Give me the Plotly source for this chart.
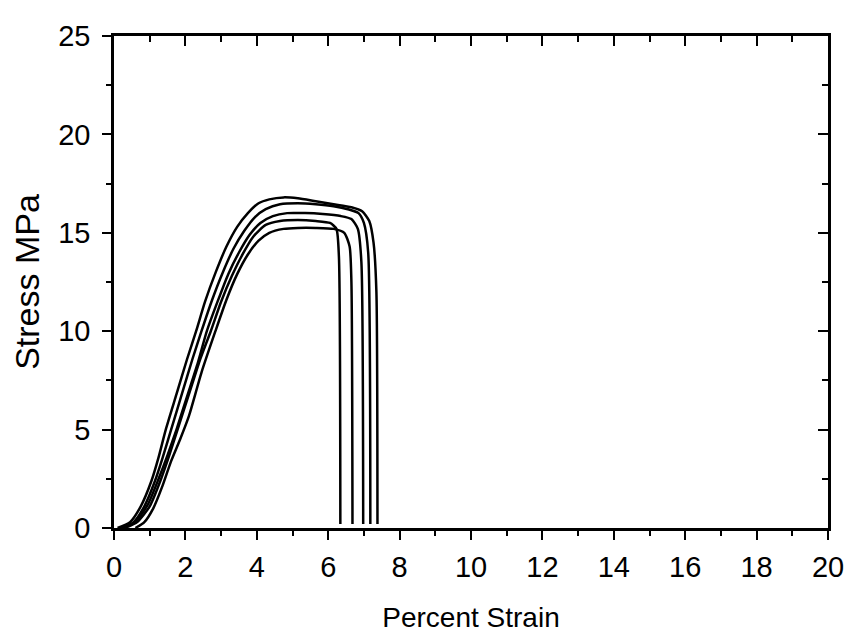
import plotly.graph_objects as go

# Stress-strain curves (Percent Strain, Stress MPa)
c1_strain = [0.1, 0.45, 0.75, 1.05, 1.25, 1.45, 1.75, 2.05, 2.3, 2.55, 2.85, 3.15, 3.45, 3.75, 4.05, 4.35, 4.75, 5.15, 5.65, 6.15, 6.65, 6.95, 7.15, 7.27, 7.35, 7.38]
c1_stress = [0.0, 0.3, 1.1, 2.4, 3.6, 5.0, 6.8, 8.6, 10.0, 11.5, 13.0, 14.3, 15.3, 16.0, 16.5, 16.7, 16.8, 16.75, 16.6, 16.45, 16.3, 16.1, 15.6, 14.5, 12.0, 0.2]

c2_strain = [0.2, 0.55, 0.85, 1.15, 1.35, 1.6, 1.9, 2.2, 2.45, 2.75, 3.05, 3.35, 3.65, 3.95, 4.25, 4.65, 5.15, 5.65, 6.15, 6.55, 6.85, 7.0, 7.12, 7.18]
c2_stress = [0.0, 0.3, 1.1, 2.4, 3.5, 5.0, 6.8, 8.6, 10.0, 11.6, 13.0, 14.2, 15.1, 15.8, 16.2, 16.45, 16.5, 16.45, 16.35, 16.2, 16.0, 15.5, 14.0, 0.2]

c3_strain = [0.25, 0.6, 0.95, 1.25, 1.5, 1.75, 2.05, 2.35, 2.6, 2.9, 3.2, 3.5, 3.8, 4.1, 4.45, 4.85, 5.35, 5.85, 6.35, 6.65, 6.83, 6.93, 6.98]
c3_stress = [0.0, 0.3, 1.2, 2.5, 3.7, 5.0, 6.7, 8.4, 10.0, 11.5, 12.9, 14.0, 14.9, 15.5, 15.85, 16.0, 16.0, 15.95, 15.85, 15.7, 15.2, 13.5, 0.2]

c4_strain = [0.3, 0.65, 1.0, 1.3, 1.55, 1.78, 2.1, 2.4, 2.71, 3.0, 3.3, 3.6, 3.9, 4.25, 4.65, 5.15, 5.65, 6.05, 6.23, 6.3, 6.34]
c4_stress = [0.0, 0.3, 1.1, 2.4, 3.7, 5.0, 6.8, 8.5, 10.0, 11.5, 12.8, 13.9, 14.8, 15.4, 15.6, 15.65, 15.6, 15.5, 15.2, 13.8, 0.2]

c5_strain = [0.6, 0.85, 1.1, 1.35, 1.6, 1.85, 2.1, 2.45, 2.84, 3.15, 3.45, 3.75, 4.05, 4.35, 4.75, 5.15, 5.65, 6.15, 6.45, 6.6, 6.65, 6.68]
c5_stress = [0.0, 0.3, 1.0, 2.1, 3.4, 4.5, 5.7, 7.9, 10.0, 11.6, 12.9, 13.9, 14.6, 15.0, 15.2, 15.25, 15.25, 15.2, 15.0, 14.3, 12.5, 0.2]

curves = [(c1_strain, c1_stress), (c2_strain, c2_stress), (c3_strain, c3_stress),
          (c4_strain, c4_stress), (c5_strain, c5_stress)]

x_ticks = [0, 2, 4, 6, 8, 10, 12, 14, 16, 18, 20]
y_ticks = [0, 5, 10, 15, 20, 25]

FONT = "Liberation Sans, Arial, sans-serif"

fig = go.Figure()
for sx, sy in curves:
    fig.add_trace(go.Scatter(x=sx, y=sy, mode="lines",
                             line=dict(color="black", width=2.5, shape="spline", smoothing=0.6),
                             showlegend=False, hoverinfo="skip"))

# invisible trace to anchor the mirrored (top/right) axes
fig.add_trace(go.Scatter(x=[0, 20], y=[0, 25], xaxis="x2", yaxis="y2", mode="markers",
                         marker=dict(opacity=0), showlegend=False, hoverinfo="skip"))

fig.update_layout(
    width=856, height=636,
    margin=dict(l=106, r=36, t=17, b=116),
    paper_bgcolor="white", plot_bgcolor="white",
    font=dict(family=FONT, size=28, color="black"),
    xaxis=dict(range=[0, 20], tickvals=x_ticks, ticks="outside", ticklen=9, tickwidth=2,
               tickcolor="black", showline=True, linewidth=2.5, linecolor="black",
               showgrid=False, zeroline=False, ticklabelstandoff=2,
               minor=dict(dtick=1, ticks="outside", ticklen=5, tickwidth=2, tickcolor="black"),
               title=dict(text="Percent Strain", standoff=26, font=dict(size=28)),
               tickfont=dict(size=29)),
    yaxis=dict(range=[0, 25], tickvals=y_ticks, ticks="outside", ticklen=9, tickwidth=2,
               tickcolor="black", showline=True, linewidth=2.5, linecolor="black",
               showgrid=False, zeroline=False, ticklabelstandoff=6,
               minor=dict(dtick=2.5, ticks="outside", ticklen=5, tickwidth=2, tickcolor="black"),
               title=dict(text="Stress MPa", standoff=10, font=dict(size=34)),
               tickfont=dict(size=29)),
    xaxis2=dict(range=[0, 20], overlaying="x", side="top", anchor="y2", tickvals=x_ticks,
                ticks="inside", ticklen=10, tickwidth=2, tickcolor="black",
                showticklabels=False, showline=True, linewidth=2.5, linecolor="black",
                showgrid=False, zeroline=False,
                minor=dict(dtick=1, ticks="inside", ticklen=6, tickwidth=2, tickcolor="black")),
    yaxis2=dict(range=[0, 25], overlaying="y", side="right", anchor="x2", tickvals=y_ticks,
                ticks="inside", ticklen=10, tickwidth=2, tickcolor="black",
                showticklabels=False, showline=True, linewidth=2.5, linecolor="black",
                showgrid=False, zeroline=False,
                minor=dict(dtick=2.5, ticks="inside", ticklen=6, tickwidth=2, tickcolor="black")),
)

fig.write_html("out.html")
